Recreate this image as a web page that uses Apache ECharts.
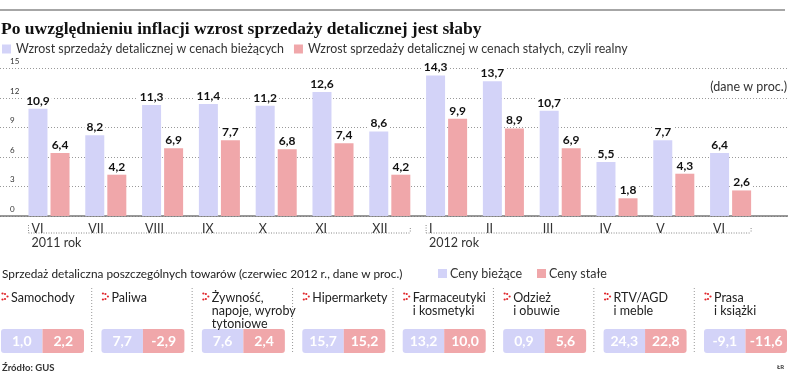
<!DOCTYPE html>
<html>
<head>
<meta charset="utf-8">
<script src="https://cdn.jsdelivr.net/npm/echarts@6/dist/echarts.min.js"></script>
<style>
  html, body { margin: 0; padding: 0; background: #fff; }
  #chart { width: 788px; height: 375px; }
</style>
</head>
<body>
<div id="chart"></div>
<script>
// miesiące czerwiec 2011 - czerwiec 2012
const months = ["VI", "VII", "VIII", "IX", "X", "XI", "XII", "I", "II", "III", "IV", "V", "VI"];
const currentPrices = [10.9, 8.2, 11.3, 11.4, 11.2, 12.6, 8.6, 14.3, 13.7, 10.7, 5.5, 7.7, 6.4];
const constantPrices = [6.4, 4.2, 6.9, 7.7, 6.8, 7.4, 4.2, 9.9, 8.9, 6.9, 1.8, 4.3, 2.6];
const yTicks = [0, 3, 6, 9, 12, 15];
const years = [
  { label: "2011 rok", from: 0, to: 6 },
  { label: "2012 rok", from: 7, to: 12 },
];

// sprzedaż poszczególnych towarów, czerwiec 2012
const goods = [
  "Samochody",
  "Paliwa",
  "Żywność,\nnapoje, wyroby\ntytoniowe",
  "Hipermarkety",
  "Farmaceutyki\ni kosmetyki",
  "Odzież\ni obuwie",
  "RTV/AGD\ni meble",
  "Prasa\ni książki",
];
const goodsCurrent = [1.0, 7.7, 7.6, 15.7, 13.2, 0.9, 24.3, -9.1];
const goodsConstant = [2.2, -2.9, 2.4, 15.2, 10.0, 5.6, 22.8, -11.6];

const seriesName = [
  "Wzrost sprzedaży detalicznej w cenach bieżących",
  "Wzrost sprzedaży detalicznej w cenach stałych, czyli realny",
];

const BLUE = "#d3d3f8";
const PINK = "#f0a7aa";
const FONT = "Lato";
const fmt = (v) => v.toFixed(1).replace(".", ",");

const myChart = echarts.init(document.getElementById("chart"));

function renderGoods(params, api) {
  const i = api.value(0);
  const base = api.coord([i, 0]);
  const band = api.size([1, 0])[0];
  const cx = base[0];
  const yb = base[1];
  const half = 41.5;
  const x0 = cx - half;
  const children = [
    {
      type: "rect",
      shape: { x: x0, y: yb - 24, width: half, height: 24, r: [3, 0, 0, 3] },
      style: { fill: BLUE },
    },
    {
      type: "rect",
      shape: { x: cx, y: yb - 24, width: half, height: 24, r: [0, 3, 3, 0] },
      style: { fill: PINK },
    },
    {
      type: "text",
      x: x0 + half / 2,
      y: yb - 12,
      style: {
        text: fmt(api.value(1)),
        fill: "#fff",
        font: "bold 14px " + FONT,
        align: "center",
        verticalAlign: "middle",
      },
    },
    {
      type: "text",
      x: cx + half / 2,
      y: yb - 12,
      style: {
        text: fmt(api.value(2)),
        fill: "#fff",
        font: "bold 14px " + FONT,
        align: "center",
        verticalAlign: "middle",
      },
    },
    {
      type: "text",
      x: x0 + 10,
      y: yb - 62,
      style: {
        text: goods[i],
        fill: "#222",
        font: "12.5px " + FONT,
        lineHeight: 13,
        align: "left",
        verticalAlign: "top",
      },
    },
  ];
  // czerwony znaczek przy nazwie
  [[1.5, -59.5], [1.5, -53.5], [4, -59], [6.5, -56.5], [4, -54]].forEach((p) => {
    children.push({
      type: "circle",
      shape: { cx: x0 + p[0], cy: yb + p[1], r: 1.1 },
      style: { fill: "#e0262b" },
    });
  });
  if (i < goods.length - 1) {
    children.push({
      type: "line",
      shape: { x1: cx + band / 2 - 1, y1: yb - 65, x2: cx + band / 2 - 1, y2: yb },
      style: { stroke: "#999", lineWidth: 1, lineDash: [1, 2] },
    });
  }
  return { type: "group", children };
}

function getOptions() {
  return {
    animation: false,
    title: {
      text: "Po uwzględnieniu inflacji wzrost sprzedaży detalicznej jest słaby",
      left: 1,
      top: 20,
      padding: 0,
      textStyle: {
        fontFamily: "Liberation Serif",
        fontWeight: "bold",
        fontSize: 17.5,
        color: "#111",
      },
    },
    legend: {
      data: seriesName,
      left: 2,
      top: 43,
      padding: 0,
      icon: "rect",
      itemWidth: 9,
      itemHeight: 9,
      itemGap: 10,
      textStyle: { color: "#333", fontSize: 12.4, fontFamily: FONT },
    },
    grid: [
      { left: 0, right: 0, top: 68.5, bottom: 159 },
      { left: 20.6, right: 29, top: 68.5, bottom: 159 },
      { left: 42.5, right: 42.5, top: 288, bottom: 22 },
    ],
    xAxis: [
      {
        gridIndex: 0,
        type: "category",
        data: [""],
        axisLine: { show: true, lineStyle: { color: "#777", width: 1.5 } },
        axisTick: { show: false },
        axisLabel: { show: false },
      },
      {
        gridIndex: 1,
        type: "category",
        data: months,
        axisLine: { show: false },
        axisTick: { show: false },
        axisLabel: {
          interval: 0,
          margin: 6,
          align: "center",
          formatter: (v) => "{a|" + v + "}",
          rich: {
            a: {
              width: 38,
              padding: [0, 0, 0, 3],
              align: "left",
              fontSize: 12.5,
              color: "#333",
              fontFamily: FONT,
            },
          },
        },
      },
      {
        gridIndex: 2,
        type: "category",
        boundaryGap: false,
        data: goods,
        show: false,
      },
    ],
    yAxis: [
      {
        gridIndex: 0,
        type: "value",
        min: yTicks[0],
        max: yTicks[yTicks.length - 1],
        interval: 3,
        axisLine: { show: false },
        axisTick: { show: false },
        splitLine: {
          show: true,
          lineStyle: { color: "#999", type: [1, 2], width: 1 },
        },
        axisLabel: {
          inside: true,
          margin: 10,
          align: "left",
          verticalAlign: "bottom",
          padding: [0, 0, 3, 0],
          fontSize: 8,
          color: "#333",
          fontFamily: FONT,
        },
      },
      {
        gridIndex: 1,
        type: "value",
        min: yTicks[0],
        max: yTicks[yTicks.length - 1],
        show: false,
        splitLine: { show: false },
      },
      {
        gridIndex: 2,
        type: "value",
        min: 0,
        max: 1,
        show: false,
        splitLine: { show: false },
      },
    ],
    series: [
      {
        name: seriesName[0],
        type: "bar",
        xAxisIndex: 1,
        yAxisIndex: 1,
        barWidth: 19,
        barGap: "16%",
        itemStyle: { color: BLUE },
        label: {
          show: true,
          position: "top",
          distance: 2,
          formatter: ({ value }) => fmt(value),
          fontFamily: FONT,
          fontWeight: "bold",
          fontSize: 12,
          color: "#111",
          backgroundColor: "#fff",
          padding: [0, 2, 0, 2],
        },
        data: currentPrices,
      },
      {
        name: seriesName[1],
        type: "bar",
        xAxisIndex: 1,
        yAxisIndex: 1,
        barWidth: 19,
        barGap: "16%",
        itemStyle: { color: PINK },
        label: {
          show: true,
          position: "top",
          distance: 2,
          formatter: ({ value }) => fmt(value),
          fontFamily: FONT,
          fontWeight: "bold",
          fontSize: 12,
          color: "#111",
          backgroundColor: "#fff",
          padding: [0, 2, 0, 2],
        },
        data: constantPrices,
      },
      {
        type: "custom",
        xAxisIndex: 2,
        yAxisIndex: 2,
        renderItem: renderGoods,
        data: goods.map((g, i) => [i, goodsCurrent[i], goodsConstant[i]]),
      },
    ],
  };
}

myChart.setOption(getOptions());

// dekoracje: linia u góry, opisy, nawiasy lat, legenda dolna
const graphics = [
  {
    type: "line",
    shape: { x1: 0, y1: 10, x2: 785, y2: 10 },
    style: { stroke: "#888", lineWidth: 1.5 },
  },
  {
    type: "text",
    x: 787,
    y: 87,
    style: { text: "(dane w proc.)", font: "12.5px " + FONT, fill: "#333", align: "right", verticalAlign: "middle" },
  },
  {
    type: "text",
    x: 2,
    y: 274,
    style: {
      text: "Sprzedaż detaliczna poszczególnych towarów (czerwiec 2012 r., dane w proc.)",
      font: "11.8px " + FONT,
      fill: "#222",
      verticalAlign: "middle",
    },
  },
  { type: "rect", shape: { x: 438, y: 269, width: 9, height: 9 }, style: { fill: BLUE } },
  {
    type: "text",
    x: 450,
    y: 274,
    style: { text: "Ceny bieżące", font: "12.5px " + FONT, fill: "#333", verticalAlign: "middle" },
  },
  { type: "rect", shape: { x: 537, y: 269, width: 9, height: 9 }, style: { fill: PINK } },
  {
    type: "text",
    x: 549,
    y: 274,
    style: { text: "Ceny stałe", font: "12.5px " + FONT, fill: "#333", verticalAlign: "middle" },
  },
  {
    type: "text",
    x: 2,
    y: 368,
    style: { text: "Źródło: GUS", font: "bold 9.5px " + FONT, fill: "#333", verticalAlign: "middle" },
  },
  {
    type: "text",
    x: 784,
    y: 367,
    style: { text: "ŁR", font: "bold 6px " + FONT, fill: "#333", align: "right", verticalAlign: "middle" },
  },
];

years.forEach((yr) => {
  const x1 = myChart.convertToPixel({ xAxisIndex: 1 }, yr.from) - 20.5;
  const x2 = myChart.convertToPixel({ xAxisIndex: 1 }, yr.to) + 20.5;
  const dotted = { stroke: "#888", lineWidth: 1, lineDash: [1, 1.5] };
  graphics.push(
    { type: "line", shape: { x1, y1: 233, x2, y2: 233 }, style: dotted },
    { type: "line", shape: { x1, y1: 225, x2: x1, y2: 233 }, style: dotted },
    { type: "line", shape: { x1: x2, y1: 228, x2, y2: 233 }, style: dotted },
    {
      type: "text",
      x: x1 + 3,
      y: 243,
      style: { text: yr.label, font: "12.5px " + FONT, fill: "#333", verticalAlign: "middle" },
    }
  );
});

myChart.setOption({ graphic: graphics });
</script>
</body>
</html>
